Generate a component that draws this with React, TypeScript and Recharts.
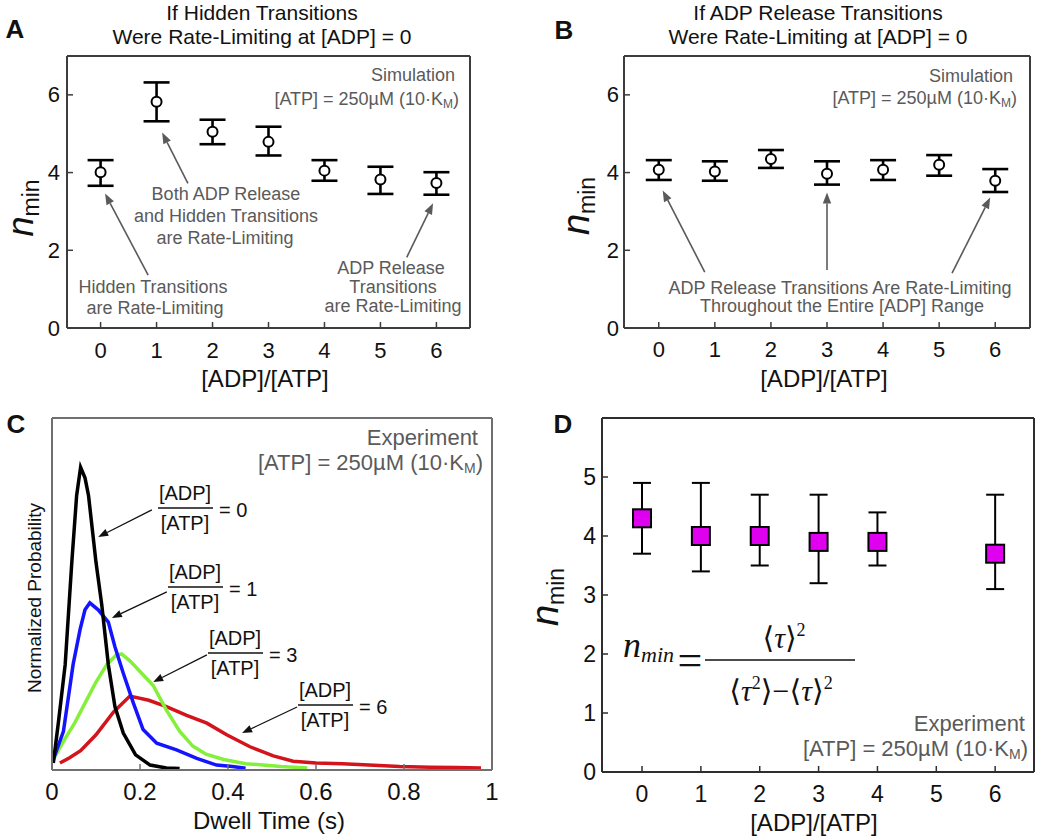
import React from 'react';
import { ScatterChart, Scatter, LineChart, Line, XAxis, YAxis, ErrorBar, ReferenceLine } from 'recharts';

const SANS = '"Liberation Sans", Arial, Helvetica, sans-serif';
const SERIF = '"Liberation Serif", "Times New Roman", "DejaVu Serif", serif';
const INK = '#111111';
const GRAY = '#5a5a5a';
const AXIS_AB = '#3d3d3d';
const AXIS_C = '#707070';
const AXIS_D = '#2e2e2e';

// ---- Panels A & B (simulation): n_min vs [ADP]/[ATP]
const ratioValues = [0, 1, 2, 3, 4, 5, 6];
const ratioLabels = ['0', '1', '2', '3', '4', '5', '6'];
const nminTicksSim = [0, 2, 4, 6];
const nminLabelsSim = ['0', '2', '4', '6'];

const hiddenMean = [4.01, 5.82, 5.05, 4.79, 4.05, 3.82, 3.73];
const hiddenLow = [3.66, 5.32, 4.73, 4.44, 3.79, 3.45, 3.43];
const hiddenHigh = [4.32, 6.32, 5.36, 5.18, 4.32, 4.15, 4.01];

const adpMean = [4.07, 4.03, 4.35, 3.97, 4.07, 4.2, 3.79];
const adpLow = [3.81, 3.79, 4.12, 3.69, 3.81, 3.92, 3.5];
const adpHigh = [4.32, 4.29, 4.58, 4.29, 4.32, 4.45, 4.09];

// ---- Panel C (experiment): dwell time distributions
const dwellTicks = [0, 0.2, 0.4, 0.6, 0.8, 1];
const dwellLabels = ['0', '0.2', '0.4', '0.6', '0.8', '1'];

const dwellT0 = [0.003, 0.015, 0.03, 0.045, 0.056, 0.065, 0.075, 0.083, 0.1, 0.113, 0.128, 0.143, 0.162, 0.19, 0.223, 0.26, 0.29];
const prob0 = [0.02, 0.14, 0.3, 0.59, 0.78, 0.86, 0.83, 0.78, 0.59, 0.47, 0.3, 0.18, 0.105, 0.043, 0.014, 0.006, 0.004];

const dwellT1 = [0.003, 0.026, 0.048, 0.064, 0.075, 0.086, 0.105, 0.128, 0.143, 0.162, 0.185, 0.207, 0.238, 0.283, 0.329, 0.374, 0.41, 0.44];
const prob1 = [0.03, 0.11, 0.3, 0.4, 0.455, 0.475, 0.455, 0.42, 0.35, 0.275, 0.19, 0.115, 0.076, 0.057, 0.033, 0.014, 0.01, 0.005];

const dwellT3 = [0.003, 0.03, 0.05, 0.075, 0.1, 0.125, 0.145, 0.158, 0.177, 0.2, 0.23, 0.26, 0.29, 0.32, 0.35, 0.39, 0.44, 0.52, 0.58];
const prob3 = [0.03, 0.09, 0.13, 0.19, 0.25, 0.3, 0.325, 0.33, 0.31, 0.28, 0.24, 0.17, 0.11, 0.068, 0.045, 0.03, 0.018, 0.01, 0.006];

const dwellT6 = [0.018, 0.04, 0.065, 0.1, 0.14, 0.177, 0.22, 0.26, 0.306, 0.352, 0.397, 0.45, 0.503, 0.548, 0.6, 0.66, 0.72, 0.79, 0.86, 0.92, 0.975];
const prob6 = [0.02, 0.035, 0.055, 0.1, 0.165, 0.21, 0.198, 0.18, 0.155, 0.133, 0.1, 0.066, 0.04, 0.025, 0.02, 0.018, 0.014, 0.01, 0.008, 0.007, 0.006];

// ---- Panel D (experiment): n_min vs [ADP]/[ATP]
const expRatio = [0, 1, 2, 3, 4, 6];
const expMean = [4.3, 4.0, 4.0, 3.9, 3.9, 3.7];
const expLow = [3.7, 3.4, 3.5, 3.2, 3.5, 3.1];
const expHigh = [4.9, 4.9, 4.7, 4.7, 4.4, 4.7];
const nminTicksExp = [0, 1, 2, 3, 4, 5];
const nminLabelsExp = ['0', '1', '2', '3', '4', '5'];

const toErr = (xs: number[], m: number[], lo: number[], hi: number[]) =>
  xs.map((x, i) => ({ x, y: m[i], err: [m[i] - lo[i], hi[i] - m[i]] }));
const toCurve = (ts: number[], ps: number[]) => ts.map((t, i) => ({ t, p: ps[i] }));

const hiddenPts = toErr(ratioValues, hiddenMean, hiddenLow, hiddenHigh);
const adpPts = toErr(ratioValues, adpMean, adpLow, adpHigh);
const expPts = toErr(expRatio, expMean, expLow, expHigh);
const curve0 = toCurve(dwellT0, prob0);
const curve1 = toCurve(dwellT1, prob1);
const curve3 = toCurve(dwellT3, prob3);
const curve6 = toCurve(dwellT6, prob6);

type Side = 'bottom' | 'top' | 'left' | 'right';
function tickRenderer(side: Side, color: string, len: number, values?: number[], labels?: string[], gap = 0, fontSize = 20) {
  return (props: any) => {
    const { x, y, payload } = props;
    const v = payload ? payload.value : 0;
    let label: string | null = null;
    if (labels && values) {
      const i = values.findIndex((t) => Math.abs(t - v) < 1e-9);
      label = i >= 0 ? labels[i] : null;
    }
    const ts = { fontFamily: SANS, fontSize, fill: INK };
    let line: any = null;
    let text: any = null;
    if (side === 'bottom') {
      line = <line x1={x} x2={x} y1={y} y2={y - len} stroke={color} strokeWidth={1.5} />;
      if (label !== null) text = <text x={x} y={y + gap} textAnchor="middle" dominantBaseline="central" {...ts}>{label}</text>;
    } else if (side === 'top') {
      line = <line x1={x} x2={x} y1={y} y2={y + len} stroke={color} strokeWidth={1.5} />;
    } else if (side === 'left') {
      line = <line x1={x} x2={x + len} y1={y} y2={y} stroke={color} strokeWidth={1.5} />;
      if (label !== null) text = <text x={x - gap} y={y} textAnchor="end" dominantBaseline="central" {...ts}>{label}</text>;
    } else {
      line = <line x1={x} x2={x - len} y1={y} y2={y} stroke={color} strokeWidth={1.5} />;
    }
    return <g>{line}{text}</g>;
  };
}

const arrowShape = (color: string, w: number, head: number) => (props: any) => {
  const { x1, y1, x2, y2 } = props;
  if (![x1, y1, x2, y2].every((n) => typeof n === 'number' && isFinite(n))) return <g />;
  const a = Math.atan2(y2 - y1, x2 - x1);
  const bx = x2 - head * Math.cos(a);
  const by = y2 - head * Math.sin(a);
  const nx = -Math.sin(a) * head * 0.38;
  const ny = Math.cos(a) * head * 0.38;
  return (
    <g>
      <line x1={x1} y1={y1} x2={bx} y2={by} stroke={color} strokeWidth={w} />
      <polygon points={`${x2},${y2} ${bx + nx},${by + ny} ${bx - nx},${by - ny}`} fill={color} />
    </g>
  );
};

const OpenCircle = (p: any) => <circle cx={p.cx} cy={p.cy} r={5} fill="#fff" stroke="#000" strokeWidth={2} />;
const MagentaSquare = (p: any) => <rect x={p.cx - 9} y={p.cy - 9} width={18} height={18} fill="#e000f0" stroke="#000" strokeWidth={2} />;

const axisLine = (c: string) => ({ stroke: c, strokeWidth: 2 });

export default function App() {
  const dA: [number, number] = [-0.6, 6.6];
  const dB: [number, number] = [-0.62, 6.62];
  const dD: [number, number] = [-0.68, 6.66];
  return (
    <div style={{ position: 'absolute', left: 0, top: 0, width: 1050, height: 838, background: '#fff', overflow: 'hidden' }}>
      {/* Panel A: plot box 67..470 x 56..328 */}
      <div style={{ position: 'absolute', left: 0, top: 0 }}>
        <ScatterChart width={500} height={400} margin={{ top: 55, right: 29, bottom: 71, left: 66 }}>
          <XAxis type="number" dataKey="x" domain={dA} ticks={ratioValues} interval={0} height={1} tickSize={0} tickMargin={0} tickLine={false} axisLine={axisLine(AXIS_AB)} tick={tickRenderer('bottom', AXIS_AB, 6, ratioValues, ratioLabels, 22, 22)} />
          <XAxis xAxisId="top" orientation="top" type="number" domain={dA} ticks={ratioValues} interval={0} height={1} tickSize={0} tickMargin={0} tickLine={false} axisLine={axisLine(AXIS_AB)} tick={tickRenderer('top', AXIS_AB, 6)} />
          <YAxis type="number" dataKey="y" domain={[0, 7]} ticks={nminTicksSim} interval={0} width={1} tickSize={0} tickMargin={0} tickLine={false} axisLine={axisLine(AXIS_AB)} tick={tickRenderer('left', AXIS_AB, 6, nminTicksSim, nminLabelsSim, 7, 22)} />
          <YAxis yAxisId="right" orientation="right" type="number" domain={[0, 7]} ticks={nminTicksSim} interval={0} width={1} tickSize={0} tickMargin={0} tickLine={false} axisLine={axisLine(AXIS_AB)} tick={tickRenderer('right', AXIS_AB, 6)} />
          <Scatter data={hiddenPts} dataKey="y" isAnimationActive={false} shape={OpenCircle}>
            <ErrorBar dataKey="err" direction="y" width={13} stroke="#000" strokeWidth={2.6} />
          </Scatter>
          <ReferenceLine segment={[{ x: 0.85, y: 1.36 }, { x: 0.08, y: 3.46 }]} shape={arrowShape(GRAY, 1.6, 11)} />
          <ReferenceLine segment={[{ x: 1.56, y: 3.72 }, { x: 1.1, y: 5.03 }]} shape={arrowShape(GRAY, 1.6, 11)} />
          <ReferenceLine segment={[{ x: 5.47, y: 1.82 }, { x: 5.94, y: 3.21 }]} shape={arrowShape(GRAY, 1.6, 11)} />
        </ScatterChart>
      </div>

      {/* Panel B: plot box 624..1030 x 56..328 */}
      <div style={{ position: 'absolute', left: 520, top: 0 }}>
        <ScatterChart width={530} height={400} margin={{ top: 55, right: 19, bottom: 71, left: 103 }}>
          <XAxis type="number" dataKey="x" domain={dB} ticks={ratioValues} interval={0} height={1} tickSize={0} tickMargin={0} tickLine={false} axisLine={axisLine(AXIS_AB)} tick={tickRenderer('bottom', AXIS_AB, 6, ratioValues, ratioLabels, 21, 22)} />
          <XAxis xAxisId="top" orientation="top" type="number" domain={dB} ticks={ratioValues} interval={0} height={1} tickSize={0} tickMargin={0} tickLine={false} axisLine={axisLine(AXIS_AB)} tick={tickRenderer('top', AXIS_AB, 6)} />
          <YAxis type="number" dataKey="y" domain={[0, 7]} ticks={nminTicksSim} interval={0} width={1} tickSize={0} tickMargin={0} tickLine={false} axisLine={axisLine(AXIS_AB)} tick={tickRenderer('left', AXIS_AB, 6, nminTicksSim, nminLabelsSim, 5, 22)} />
          <YAxis yAxisId="right" orientation="right" type="number" domain={[0, 7]} ticks={nminTicksSim} interval={0} width={1} tickSize={0} tickMargin={0} tickLine={false} axisLine={axisLine(AXIS_AB)} tick={tickRenderer('right', AXIS_AB, 6)} />
          <Scatter data={adpPts} dataKey="y" isAnimationActive={false} shape={OpenCircle}>
            <ErrorBar dataKey="err" direction="y" width={13} stroke="#000" strokeWidth={2.6} />
          </Scatter>
          <ReferenceLine segment={[{ x: 0.82, y: 1.44 }, { x: 0.07, y: 3.54 }]} shape={arrowShape(GRAY, 1.6, 11)} />
          <ReferenceLine segment={[{ x: 3.0, y: 1.49 }, { x: 3.0, y: 3.49 }]} shape={arrowShape(GRAY, 1.6, 11)} />
          <ReferenceLine segment={[{ x: 5.23, y: 1.41 }, { x: 5.91, y: 3.36 }]} shape={arrowShape(GRAY, 1.6, 11)} />
        </ScatterChart>
      </div>

      {/* Panel C: plot box 52..492 x 418..770 */}
      <div style={{ position: 'absolute', left: 0, top: 400 }}>
        <LineChart width={520} height={438} margin={{ top: 17, right: 27, bottom: 67, left: 51 }}>
          <XAxis type="number" dataKey="t" domain={[0, 1]} ticks={dwellTicks} interval={0} height={1} tickSize={0} tickMargin={0} tickLine={false} axisLine={axisLine(AXIS_C)} tick={tickRenderer('bottom', AXIS_C, 6, dwellTicks, dwellLabels, 21, 24)} />
          <XAxis xAxisId="top" orientation="top" type="number" domain={[0, 1]} ticks={dwellTicks} interval={0} height={1} tickSize={0} tickMargin={0} tickLine={false} axisLine={axisLine(AXIS_C)} tick={tickRenderer('top', AXIS_C, 6)} />
          <YAxis type="number" domain={[0, 1]} width={1} tick={false} tickLine={false} axisLine={axisLine(AXIS_C)} />
          <YAxis yAxisId="right" orientation="right" type="number" domain={[0, 1]} width={1} tick={false} tickLine={false} axisLine={axisLine(AXIS_C)} />
          <Line data={curve6} dataKey="p" type="linear" dot={false} stroke="#d3141c" strokeWidth={3.5} isAnimationActive={false} />
          <Line data={curve3} dataKey="p" type="linear" dot={false} stroke="#84f03c" strokeWidth={3.5} isAnimationActive={false} />
          <Line data={curve1} dataKey="p" type="linear" dot={false} stroke="#1414ff" strokeWidth={3.5} isAnimationActive={false} />
          <Line data={curve0} dataKey="p" type="linear" dot={false} stroke="#000000" strokeWidth={3.5} isAnimationActive={false} />
          <ReferenceLine segment={[{ x: 0.227, y: 0.739 }, { x: 0.105, y: 0.662 }]} shape={arrowShape('#111', 1.3, 10)} />
          <ReferenceLine segment={[{ x: 0.261, y: 0.506 }, { x: 0.136, y: 0.432 }]} shape={arrowShape('#111', 1.3, 10)} />
          <ReferenceLine segment={[{ x: 0.352, y: 0.327 }, { x: 0.23, y: 0.25 }]} shape={arrowShape('#111', 1.3, 10)} />
          <ReferenceLine segment={[{ x: 0.557, y: 0.179 }, { x: 0.432, y: 0.105 }]} shape={arrowShape('#111', 1.3, 10)} />
        </LineChart>
      </div>

      {/* Panel D: plot box 602..1034 x 418..772 */}
      <div style={{ position: 'absolute', left: 520, top: 400 }}>
        <ScatterChart width={530} height={438} margin={{ top: 17, right: 15, bottom: 65, left: 81 }}>
          <XAxis type="number" dataKey="x" domain={dD} ticks={ratioValues} interval={0} height={1} tickSize={0} tickMargin={0} tickLine={false} axisLine={axisLine(AXIS_D)} tick={tickRenderer('bottom', AXIS_D, 6, ratioValues, ratioLabels, 22, 23)} />
          <XAxis xAxisId="top" orientation="top" type="number" domain={dD} ticks={ratioValues} interval={0} height={1} tickSize={0} tickMargin={0} tickLine={false} axisLine={axisLine(AXIS_D)} tick={tickRenderer('top', AXIS_D, 6)} />
          <YAxis type="number" dataKey="y" domain={[0, 6]} ticks={nminTicksExp} interval={0} width={1} tickSize={0} tickMargin={0} tickLine={false} axisLine={axisLine(AXIS_D)} tick={tickRenderer('left', AXIS_D, 6, nminTicksExp, nminLabelsExp, 6, 23)} />
          <YAxis yAxisId="right" orientation="right" type="number" domain={[0, 6]} ticks={nminTicksExp} interval={0} width={1} tickSize={0} tickMargin={0} tickLine={false} axisLine={axisLine(AXIS_D)} tick={tickRenderer('right', AXIS_D, 6)} />
          <Scatter data={expPts} dataKey="y" isAnimationActive={false} shape={MagentaSquare}>
            <ErrorBar dataKey="err" direction="y" width={9} stroke="#000" strokeWidth={2} />
          </Scatter>
        </ScatterChart>
      </div>

      {/* Text overlay */}
      <svg width={1050} height={838} style={{ position: 'absolute', left: 0, top: 0, pointerEvents: 'none' }} fontFamily={SANS}>
        {/* panel letters */}
        <text x={15} y={29} fontSize={26} fontWeight="bold" textAnchor="middle" dominantBaseline="central" fill={INK}>A</text>
        <text x={564} y={30} fontSize={26} fontWeight="bold" textAnchor="middle" dominantBaseline="central" fill={INK}>B</text>
        <text x={16} y={424} fontSize={26} fontWeight="bold" textAnchor="middle" dominantBaseline="central" fill={INK}>C</text>
        <text x={563} y={424} fontSize={26} fontWeight="bold" textAnchor="middle" dominantBaseline="central" fill={INK}>D</text>

        {/* titles */}
        <g fontSize={21} fill={INK} textAnchor="middle">
          <text x={262} y={12} dominantBaseline="central">If Hidden Transitions</text>
          <text x={262} y={36} dominantBaseline="central">Were Rate-Limiting at [ADP] = 0</text>
          <text x={818} y={12} dominantBaseline="central">If ADP Release Transitions</text>
          <text x={818} y={36} dominantBaseline="central">Were Rate-Limiting at [ADP] = 0</text>
        </g>

        {/* axis labels */}
        <g fontSize={24} fill={INK} textAnchor="middle">
          <text x={265} y={378} dominantBaseline="central">[ADP]/[ATP]</text>
          <text x={824} y={378} dominantBaseline="central">[ADP]/[ATP]</text>
          <text x={269} y={820} dominantBaseline="central">Dwell Time (s)</text>
          <text x={814} y={822} dominantBaseline="central">[ADP]/[ATP]</text>
        </g>
        <text transform="translate(33,208) rotate(-90)" textAnchor="middle" fill={INK}>
          <tspan fontSize={36} fontStyle="italic">n</tspan><tspan fontSize={23} dy={6}>min</tspan>
        </text>
        <text transform="translate(589,206) rotate(-90)" textAnchor="middle" fill={INK}>
          <tspan fontSize={38} fontStyle="italic">n</tspan><tspan fontSize={23} dy={6}>min</tspan>
        </text>
        <text transform="translate(558,597) rotate(-90)" textAnchor="middle" fill={INK}>
          <tspan fontSize={38} fontStyle="italic">n</tspan><tspan fontSize={23} dy={6}>min</tspan>
        </text>
        <text transform="translate(41,598) rotate(-90)" textAnchor="middle" fontSize={19} fill={INK}>Normalized Probability</text>

        {/* panel A annotations */}
        <g fontSize={18} fill={GRAY}>
          <text x={455} y={75} textAnchor="end" dominantBaseline="central">Simulation</text>
          <text x={459} y={99} textAnchor="end" dominantBaseline="central">[ATP] = 250µM (10·K<tspan fontSize={12} dy={5}>M</tspan><tspan dy={-5}>)</tspan></text>
          <text x={226} y={194} textAnchor="middle" dominantBaseline="central">Both ADP Release</text>
          <text x={226} y={216} textAnchor="middle" dominantBaseline="central">and Hidden Transitions</text>
          <text x={225} y={238} textAnchor="middle" dominantBaseline="central">are Rate-Limiting</text>
          <text x={153} y={287} textAnchor="middle" dominantBaseline="central">Hidden Transitions</text>
          <text x={155} y={308} textAnchor="middle" dominantBaseline="central">are Rate-Limiting</text>
          <text x={391} y={268} textAnchor="middle" dominantBaseline="central">ADP Release</text>
          <text x={393} y={287} textAnchor="middle" dominantBaseline="central">Transitions</text>
          <text x={393} y={306} textAnchor="middle" dominantBaseline="central">are Rate-Limiting</text>
        </g>

        {/* panel B annotations */}
        <g fontSize={18} fill={GRAY}>
          <text x={1013} y={76} textAnchor="end" dominantBaseline="central">Simulation</text>
          <text x={1017} y={98} textAnchor="end" dominantBaseline="central">[ATP] = 250µM (10·K<tspan fontSize={12} dy={5}>M</tspan><tspan dy={-5}>)</tspan></text>
          <text x={840} y={288} textAnchor="middle" dominantBaseline="central">ADP Release Transitions Are Rate-Limiting</text>
          <text x={842} y={306} textAnchor="middle" dominantBaseline="central">Throughout the Entire [ADP] Range</text>
        </g>

        {/* panel C annotations */}
        <g fontSize={22} fill={GRAY}>
          <text x={478} y={437} textAnchor="end" dominantBaseline="central">Experiment</text>
          <text x={483} y={462} textAnchor="end" dominantBaseline="central">[ATP] = 250µM (10·K<tspan fontSize={14} dy={6}>M</tspan><tspan dy={-6}>)</tspan></text>
        </g>
        {[
          { left: 158, bar: 508, v: '0' },
          { left: 168, bar: 587, v: '1' },
          { left: 208, bar: 653, v: '3' },
          { left: 298, bar: 705, v: '6' },
        ].map((f) => (
          <g key={f.v} fontSize={20} fill={INK}>
            <text x={f.left + 27} y={f.bar - 15} textAnchor="middle" dominantBaseline="central">[ADP]</text>
            <line x1={f.left} x2={f.left + 55} y1={f.bar} y2={f.bar} stroke={INK} strokeWidth={1.6} />
            <text x={f.left + 27} y={f.bar + 15} textAnchor="middle" dominantBaseline="central">[ATP]</text>
            <text x={f.left + 61} y={f.bar + 2} textAnchor="start" dominantBaseline="central">= {f.v}</text>
          </g>
        ))}

        {/* panel D annotations */}
        <g fontSize={22} fill={GRAY}>
          <text x={1025} y={723} textAnchor="end" dominantBaseline="central">Experiment</text>
          <text x={1028} y={748} textAnchor="end" dominantBaseline="central">[ATP] = 250µM (10·K<tspan fontSize={14} dy={6}>M</tspan><tspan dy={-6}>)</tspan></text>
        </g>
        <g fontFamily={SERIF} fill={INK}>
          <text x={623} y={657} fontStyle="italic"><tspan fontSize={36}>n</tspan><tspan fontSize={22} dy={5}>min</tspan></text>
          <text x={690} y={660} fontSize={44} textAnchor="middle" dominantBaseline="central">=</text>
          <line x1={705} x2={855} y1={660} y2={660} stroke={INK} strokeWidth={1.5} />
          <text x={784} y={648} fontSize={30} textAnchor="middle">⟨<tspan fontStyle="italic">τ</tspan>⟩<tspan fontSize={18} dy={-12}>2</tspan></text>
          <text x={781} y={701} fontSize={30} textAnchor="middle">⟨<tspan fontStyle="italic">τ</tspan><tspan fontSize={18} dy={-12}>2</tspan><tspan dy={12}>⟩−⟨</tspan><tspan fontStyle="italic">τ</tspan>⟩<tspan fontSize={18} dy={-12}>2</tspan></text>
        </g>
      </svg>
    </div>
  );
}
